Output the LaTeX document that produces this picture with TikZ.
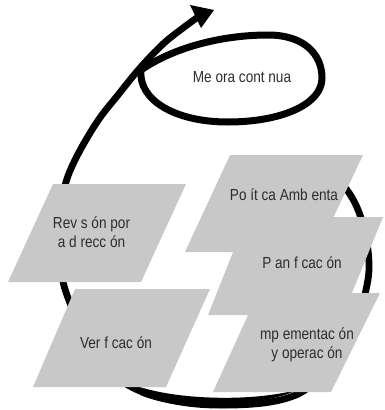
\documentclass[tikz,border=0pt]{standalone}
\usepackage{fontspec}
\setmainfont{Liberation Sans}[FakeStretch=0.85]
\definecolor{boxgray}{RGB}{200,200,200}
\definecolor{txtgray}{RGB}{45,45,45}
\begin{document}
\begin{tikzpicture}[x=1pt,y=-1pt,
  loopline/.style={line width=6.8pt, draw=black},
  pbox/.style={fill=boxgray, draw=none},
  lbl/.style={text=txtgray, font=\fontsize{16}{19}\selectfont, inner sep=0pt, anchor=base},
]
\useasboundingbox (0,0) rectangle (384,410);
% spiral arrow
\draw[loopline] plot[smooth, tension=0.6] coordinates {(330,175) (347,190) (360,215) (368,250) (367,285) (350,335) (300,393) (215,405) (140,391) (95,355) (70,303) (61,270) (60,230) (64,190) (75,160) (97,122) (118,95) (140,68) (163,44) (183,28) (198,17)};
% thicker bottom part of the loop
\fill[black] (140,387) .. controls (180,408) and (255,410) .. (300,389)
  .. controls (255,402) and (180,400) .. (140,387) -- cycle;
\fill[black] (140,395) .. controls (180,411) and (255,413) .. (300,397)
  .. controls (255,408) and (180,406) .. (140,395) -- cycle;
\fill[black] (190,5) -- (214,10) -- (201,28) -- cycle;
% ellipse
\draw[line width=7pt] (141,70) .. controls (176,46) and (225,35) .. (268,35)
  .. controls (305,35) and (322,55) .. (322,78)
  .. controls (322,105) and (280,122) .. (228,122)
  .. controls (175,122) and (138,100) .. (141,70) -- cycle;
% boxes
\fill[pbox] (230,155) -- (363,155) -- (317,252) -- (185,252) -- cycle;
\fill[pbox] (247,217) -- (383,217) -- (343,315) -- (208,315) -- cycle;
\fill[pbox] (258,293) -- (380,293) -- (331,392) -- (213,392) -- cycle;
\fill[pbox] (53,184) -- (186,184) -- (141,282) -- (8,282) -- cycle;
\fill[pbox] (75,289) -- (210,289) -- (166,387) -- (33,387) -- cycle;
% labels
\node[lbl] (mejora) at (242,82.7) {Me ora cont nua};
\node[lbl] (politica) at (284,200.5) {Po ít ca Amb enta};
\node[lbl] (planif) at (302,268.3) {P an f cac ón};
\node[lbl] (impl) at (307,339) {\begin{tabular}[t]{@{}c@{}}mp ementac ón\\ y operac ón\end{tabular}};
\node[lbl] (rev) at (91.5,228.3) {\begin{tabular}[t]{@{}c@{}}Rev s ón por\\ a d recc ón\end{tabular}};
\node[lbl] (verif) at (116,348.3) {Ver f cac ón};
\end{tikzpicture}
\end{document}
